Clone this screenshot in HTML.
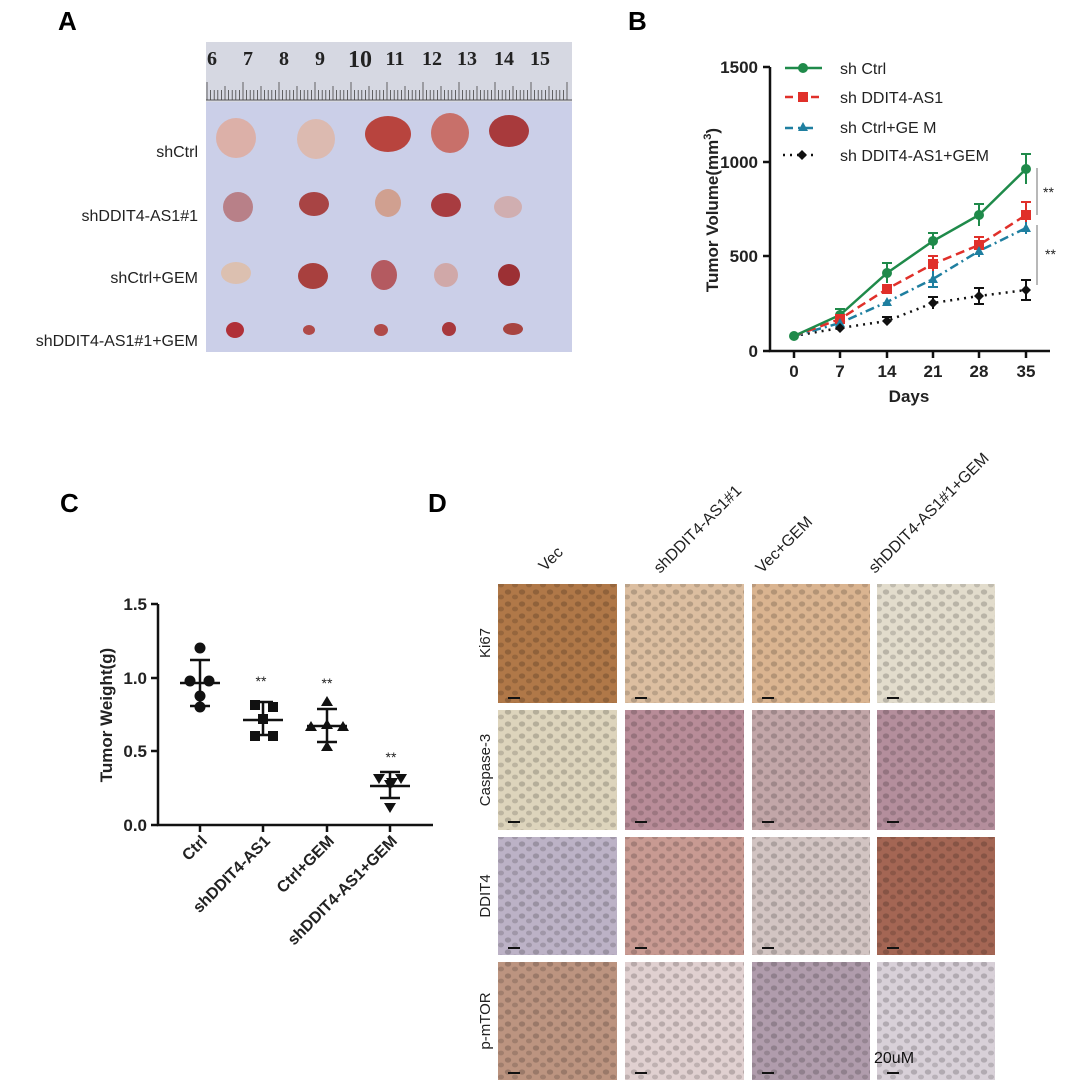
<!DOCTYPE html>
<html><head><meta charset="utf-8"><style>body{margin:0;background:#fff}svg{display:block}text{font-family:"Liberation Sans",Arial,sans-serif}text.serif{font-family:"Liberation Serif",serif}</style></head><body>
<svg width="1080" height="1087" viewBox="0 0 1080 1087" xmlns="http://www.w3.org/2000/svg">
<defs>
<pattern id="nuc" width="14" height="12" patternUnits="userSpaceOnUse"><ellipse cx="4" cy="4" rx="3.2" ry="2.6" fill="#000" opacity="0.18"/><ellipse cx="11" cy="9" rx="3" ry="2.4" fill="#000" opacity="0.15"/></pattern>
</defs>
<g font-weight="bold" font-size="26">
<text x="58" y="30">A</text><text x="628" y="30">B</text><text x="60" y="512">C</text><text x="428" y="512">D</text></g>

<!-- Panel A -->
<rect x="206" y="42" width="366" height="310" fill="#cbcfe8"/>
<rect x="206" y="42" width="366" height="60" fill="#d6d8e2"/>
<line x1="206" y1="100" x2="572" y2="100" stroke="#555" stroke-width="1"/>
<g stroke="#444" stroke-width="0.8">
<path d="M207 100V82M210.6 100V90M214.2 100V90M217.8 100V90M221.4 100V90M225 100V86M228.6 100V90M232.2 100V90M235.8 100V90M239.4 100V90M243 100V82M246.6 100V90M250.2 100V90M253.8 100V90M257.4 100V90M261 100V86M264.6 100V90M268.2 100V90M271.8 100V90M275.4 100V90M279 100V82M282.6 100V90M286.2 100V90M289.8 100V90M293.4 100V90M297 100V86M300.6 100V90M304.2 100V90M307.8 100V90M311.4 100V90M315 100V82M318.6 100V90M322.2 100V90M325.8 100V90M329.4 100V90M333 100V86M336.6 100V90M340.2 100V90M343.8 100V90M347.4 100V90M351 100V82M354.6 100V90M358.2 100V90M361.8 100V90M365.4 100V90M369 100V86M372.6 100V90M376.2 100V90M379.8 100V90M383.4 100V90M387 100V82M390.6 100V90M394.2 100V90M397.8 100V90M401.4 100V90M405 100V86M408.6 100V90M412.2 100V90M415.8 100V90M419.4 100V90M423 100V82M426.6 100V90M430.2 100V90M433.8 100V90M437.4 100V90M441 100V86M444.6 100V90M448.2 100V90M451.8 100V90M455.4 100V90M459 100V82M462.6 100V90M466.2 100V90M469.8 100V90M473.4 100V90M477 100V86M480.6 100V90M484.2 100V90M487.8 100V90M491.4 100V90M495 100V82M498.6 100V90M502.2 100V90M505.8 100V90M509.4 100V90M513 100V86M516.6 100V90M520.2 100V90M523.8 100V90M527.4 100V90M531 100V82M534.6 100V90M538.2 100V90M541.8 100V90M545.4 100V90M549 100V86M552.6 100V90M556.2 100V90M559.8 100V90M563.4 100V90M567 100V82"/>
</g>
<g font-weight="bold" font-size="20" fill="#222" text-anchor="middle">
<text class="serif" x="212" y="65">6</text><text class="serif" x="248" y="65">7</text><text class="serif" x="284" y="65">8</text><text class="serif" x="320" y="65">9</text><text class="serif" x="360" y="67" font-size="24">10</text><text class="serif" x="395" y="65">11</text><text class="serif" x="432" y="65">12</text><text class="serif" x="467" y="65">13</text><text class="serif" x="504" y="65">14</text><text class="serif" x="540" y="65">15</text></g>
<g>
<ellipse cx="236" cy="138" rx="20" ry="20" fill="#dcb0a8"/>
<ellipse cx="316" cy="139" rx="19" ry="20" fill="#dcbab0"/>
<ellipse cx="388" cy="134" rx="23" ry="18" fill="#b8443e"/>
<ellipse cx="450" cy="133" rx="19" ry="20" fill="#c8706a"/>
<ellipse cx="509" cy="131" rx="20" ry="16" fill="#a83a3c"/>
<ellipse cx="238" cy="207" rx="15" ry="15" fill="#b88088"/>
<ellipse cx="314" cy="204" rx="15" ry="12" fill="#a84444"/>
<ellipse cx="388" cy="203" rx="13" ry="14" fill="#d0a090"/>
<ellipse cx="446" cy="205" rx="15" ry="12" fill="#a83c40"/>
<ellipse cx="508" cy="207" rx="14" ry="11" fill="#d0aeb0"/>
<ellipse cx="236" cy="273" rx="15" ry="11" fill="#dcc0b0"/>
<ellipse cx="313" cy="276" rx="15" ry="13" fill="#a8403e"/>
<ellipse cx="384" cy="275" rx="13" ry="15" fill="#b45a60"/>
<ellipse cx="446" cy="275" rx="12" ry="12" fill="#d0a8a8"/>
<ellipse cx="509" cy="275" rx="11" ry="11" fill="#9c3034"/>
<ellipse cx="235" cy="330" rx="9" ry="8" fill="#b03038"/>
<ellipse cx="309" cy="330" rx="6" ry="5" fill="#b04a48"/>
<ellipse cx="381" cy="330" rx="7" ry="6" fill="#b04a48"/>
<ellipse cx="449" cy="329" rx="7" ry="7" fill="#a8383c"/>
<ellipse cx="513" cy="329" rx="10" ry="6" fill="#a84440"/>
</g>
<g font-size="16" fill="#222" text-anchor="end">
<text x="198" y="157">shCtrl</text><text x="198" y="221">shDDIT4-AS1#1</text><text x="198" y="283">shCtrl+GEM</text><text x="198" y="346">shDDIT4-AS1#1+GEM</text></g>

<!-- Panel B -->
<g stroke="#111" stroke-width="2.5" fill="none">
<path d="M770 67V351H1050"/>
<path d="M763 67H770M763 162H770M763 256H770M763 351H770"/>
<path d="M794 351v7M840 351v7M887 351v7M933 351v7M979 351v7M1026 351v7"/>
</g>
<g font-size="17" font-weight="bold" fill="#222" text-anchor="end">
<text x="758" y="73">1500</text><text x="758" y="168">1000</text><text x="758" y="262">500</text><text x="758" y="357">0</text></g>
<g font-size="17" font-weight="bold" fill="#222" text-anchor="middle">
<text x="794" y="377">0</text><text x="840" y="377">7</text><text x="887" y="377">14</text><text x="933" y="377">21</text><text x="979" y="377">28</text><text x="1026" y="377">35</text>
<text x="909" y="402">Days</text></g>
<text transform="translate(718 210) rotate(-90)" font-size="17" font-weight="bold" fill="#222" text-anchor="middle">Tumor Volume(mm<tspan font-size="11" dy="-7">3</tspan><tspan dy="7">)</tspan></text>
<g stroke-width="2.5" fill="none">
<polyline points="794,336 840,328 887,321 933,303 979,296 1026,290" stroke="#111" stroke-dasharray="2,5"/>
<polyline points="794,336 840,323 887,302 933,279 979,251 1026,228" stroke="#1f7fa0" stroke-dasharray="9,4,2,4"/>
<polyline points="794,336 840,319 887,289 933,264 979,245 1026,215" stroke="#e0302a" stroke-dasharray="9,5"/>
<polyline points="794,336 840,315 887,273 933,241 979,215 1026,169" stroke="#1f8a4a"/>
</g>
<g stroke-width="2" fill="none">
<path stroke="#1f8a4a" d="M887 263v20M882 263h10M933 233v16M928 233h10M979 204v22M974 204h10M1026 154v30M1021 154h10M840 309v12M835 309h10"/>
<path stroke="#e0302a" d="M933 256v16M928 256h10M979 237v16M974 237h10M1026 202v26M1021 202h10"/>
<path stroke="#1f7fa0" d="M933 271v16M928 287h10M979 245v12M1026 222v12"/>
<path stroke="#111" d="M887 317v8M882 317h10M933 297v12M928 297h10M979 288v16M974 288h10M974 304h10M1026 280v20M1021 280h10M1021 300h10"/>
</g>
<g>
<g fill="#1f8a4a"><circle cx="794" cy="336" r="5"/><circle cx="840" cy="315" r="5"/><circle cx="887" cy="273" r="5"/><circle cx="933" cy="241" r="5"/><circle cx="979" cy="215" r="5"/><circle cx="1026" cy="169" r="5"/></g>
<g fill="#e0302a"><rect x="835" y="314" width="10" height="10"/><rect x="882" y="284" width="10" height="10"/><rect x="928" y="259" width="10" height="10"/><rect x="974" y="240" width="10" height="10"/><rect x="1021" y="210" width="10" height="10"/></g>
<g fill="#1f7fa0"><path d="M840 318l5 9h-10zM887 297l5 9h-10zM933 274l5 9h-10zM979 246l5 9h-10zM1026 223l5 9h-10z"/></g>
<g fill="#111"><path d="M840 323l5 5-5 5-5-5zM887 316l5 5-5 5-5-5zM933 298l5 5-5 5-5-5zM979 291l5 5-5 5-5-5zM1026 285l5 5-5 5-5-5z"/></g>
</g>
<g stroke="#888" stroke-width="1.2"><line x1="1037" y1="168" x2="1037" y2="215"/><line x1="1037" y1="225" x2="1037" y2="285"/></g>
<g font-size="14" fill="#222"><text x="1043" y="197">**</text><text x="1045" y="259">**</text></g>
<line x1="785" y1="68" x2="822" y2="68" stroke="#1f8a4a" stroke-width="2.5"/><circle cx="803" cy="68" r="5" fill="#1f8a4a"/>
<line x1="785" y1="97" x2="822" y2="97" stroke="#e0302a" stroke-width="2.5" stroke-dasharray="8,5"/><rect x="798" y="92" width="10" height="10" fill="#e0302a"/>
<line x1="785" y1="128" x2="815" y2="128" stroke="#1f7fa0" stroke-width="2.5" stroke-dasharray="8,5,2,5"/><path d="M803 122l5 9h-10z" fill="#1f7fa0"/>
<line x1="783" y1="155" x2="818" y2="155" stroke="#111" stroke-width="2.5" stroke-dasharray="2,5"/><path d="M802 150l5 5-5 5-5-5z" fill="#111"/>
<g font-size="16" fill="#222"><text x="840" y="74">sh Ctrl</text><text x="840" y="103">sh DDIT4-AS1</text><text x="840" y="133">sh Ctrl+GE M</text><text x="840" y="161">sh DDIT4-AS1+GEM</text></g>

<!-- Panel C -->
<g stroke="#111" stroke-width="2.5" fill="none">
<path d="M158 604V825H433"/>
<path d="M151 604H158M151 678H158M151 751H158M151 825H158"/>
<path d="M200 825v7M263 825v7M327 825v7M390 825v7"/>
</g>
<g font-size="17" font-weight="bold" fill="#222" text-anchor="end">
<text x="147" y="610">1.5</text><text x="147" y="684">1.0</text><text x="147" y="757">0.5</text><text x="147" y="831">0.0</text></g>
<text transform="translate(112 715) rotate(-90)" font-size="17" font-weight="bold" fill="#222" text-anchor="middle">Tumor Weight(g)</text>
<g font-size="16" font-weight="bold" fill="#222" text-anchor="end">
<text transform="translate(208 842) rotate(-45)">Ctrl</text>
<text transform="translate(271 842) rotate(-45)">shDDIT4-AS1</text>
<text transform="translate(335 842) rotate(-45)">Ctrl+GEM</text>
<text transform="translate(398 842) rotate(-45)">shDDIT4-AS1+GEM</text></g>
<g stroke="#111" stroke-width="2.5">
<path d="M180 683H220M200 660V706M190 660h20M190 706h20"/>
<path d="M243 720H283M263 702V735M253 702h20M253 735h20"/>
<path d="M307 726H347M327 709V742M317 709h20M317 742h20"/>
<path d="M370 786H410M390 772V798M380 772h20M380 798h20"/>
</g>
<g fill="#111">
<circle cx="200" cy="648" r="5.5"/><circle cx="190" cy="681" r="5.5"/><circle cx="209" cy="681" r="5.5"/><circle cx="200" cy="696" r="5.5"/><circle cx="200" cy="707" r="5.5"/>
<rect x="250" y="700" width="10" height="10"/><rect x="268" y="702" width="10" height="10"/><rect x="258" y="714" width="10" height="10"/><rect x="250" y="731" width="10" height="10"/><rect x="268" y="731" width="10" height="10"/>
<path d="M327 696l6 10h-12zM311 721l6 10h-12zM327 719l6 10h-12zM343 721l6 10h-12zM327 741l6 10h-12z"/>
<path d="M373 774h12l-6 10zM395 774h12l-6 10zM384 780h12l-6 10zM386 778h12l-6 10zM384 803h12l-6 10z"/>
</g>
<g font-size="14" fill="#222" text-anchor="middle"><text x="261" y="686">**</text><text x="327" y="688">**</text><text x="391" y="762">**</text></g>

<!-- Panel D -->
<g font-size="16" fill="#222">
<text transform="translate(545 572) rotate(-45)">Vec</text>
<text transform="translate(660 574) rotate(-45)">shDDIT4-AS1#1</text>
<text transform="translate(762 574) rotate(-45)">Vec+GEM</text>
<text transform="translate(875 574) rotate(-45)">shDDIT4-AS1#1+GEM</text>
</g>
<g font-size="15" fill="#222" text-anchor="middle">
<text transform="translate(490 643) rotate(-90)">Ki67</text>
<text transform="translate(490 770) rotate(-90)">Caspase-3</text>
<text transform="translate(490 896) rotate(-90)">DDIT4</text>
<text transform="translate(490 1021) rotate(-90)">p-mTOR</text>
</g>
<g>
<rect x="498" y="584" width="119" height="119" fill="#b07848"/>
<rect x="625" y="584" width="119" height="119" fill="#dcbea0"/>
<rect x="752" y="584" width="118" height="119" fill="#dab490"/>
<rect x="877" y="584" width="118" height="119" fill="#e2dccc"/>
<rect x="498" y="710" width="119" height="120" fill="#ddd4bc"/>
<rect x="625" y="710" width="119" height="120" fill="#b88c98"/>
<rect x="752" y="710" width="118" height="120" fill="#c2a6a8"/>
<rect x="877" y="710" width="118" height="120" fill="#b48e9c"/>
<rect x="498" y="837" width="119" height="118" fill="#bcb2c6"/>
<rect x="625" y="837" width="119" height="118" fill="#c89a92"/>
<rect x="752" y="837" width="118" height="118" fill="#d2c4c2"/>
<rect x="877" y="837" width="118" height="118" fill="#a46654"/>
<rect x="498" y="962" width="119" height="118" fill="#bc9480"/>
<rect x="625" y="962" width="119" height="118" fill="#e0d0d0"/>
<rect x="752" y="962" width="118" height="118" fill="#b09cac"/>
<rect x="877" y="962" width="118" height="118" fill="#d8d0d8"/>
<g fill="url(#nuc)">
<rect x="498" y="584" width="119" height="119"/><rect x="625" y="584" width="119" height="119"/><rect x="752" y="584" width="118" height="119"/><rect x="877" y="584" width="118" height="119"/>
<rect x="498" y="710" width="119" height="120"/><rect x="625" y="710" width="119" height="120"/><rect x="752" y="710" width="118" height="120"/><rect x="877" y="710" width="118" height="120"/>
<rect x="498" y="837" width="119" height="118"/><rect x="625" y="837" width="119" height="118"/><rect x="752" y="837" width="118" height="118"/><rect x="877" y="837" width="118" height="118"/>
<rect x="498" y="962" width="119" height="118"/><rect x="625" y="962" width="119" height="118"/><rect x="752" y="962" width="118" height="118"/><rect x="877" y="962" width="118" height="118"/>
</g>
<g stroke="#111" stroke-width="2">
<path d="M508 698h12M635 698h12M762 698h12M887 698h12M508 822h12M635 822h12M762 822h12M887 822h12M508 948h12M635 948h12M762 948h12M887 948h12M508 1073h12M635 1073h12M762 1073h12M887 1073h12"/>
</g>
<text x="874" y="1063" font-size="16" fill="#111">20uM</text>
</g>
</svg>
</body></html>
